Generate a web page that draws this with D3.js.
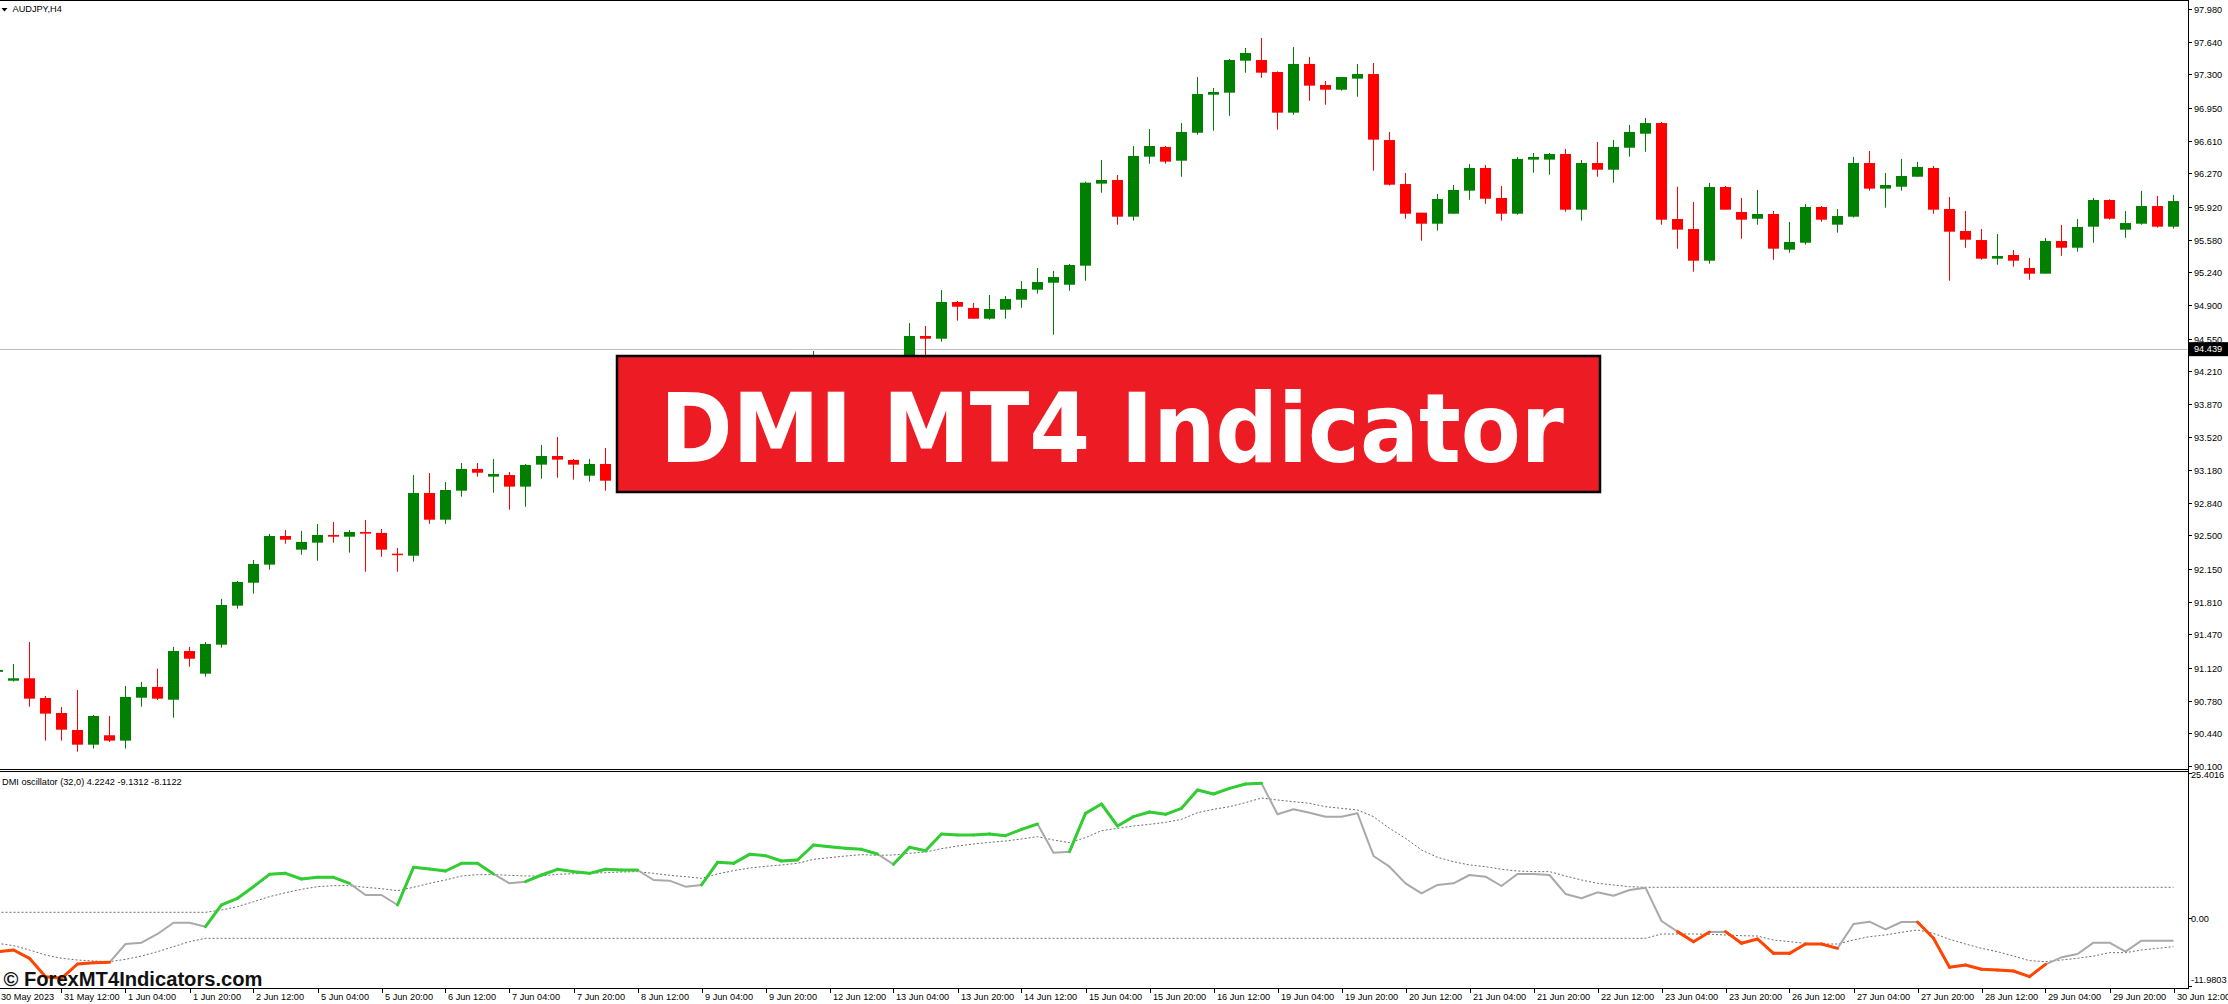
<!DOCTYPE html>
<html><head><meta charset="utf-8">
<script src="https://cdn.jsdelivr.net/npm/d3@7"></script>
<style>
html,body{margin:0;padding:0;background:#fff;overflow:hidden}
svg{display:block}
text{font-family:"Liberation Sans",Arial,sans-serif}
</style></head>
<body>
<svg id="c" width="2228" height="1004"></svg>
<script>
// ---------------- DATA ----------------
const symbolTitle = "AUDJPY,H4";
const oscTitle = "DMI oscillator (32,0) 4.2242 -9.1312 -8.1122";
const bannerText = "DMI MT4 Indicator";
const watermark = "\u00A9 ForexMT4Indicators.com";
const firstBar = -1; // index of first bar (partially visible)

const open = [91.08,90.988,91.013,90.808,90.652,90.475,90.322,90.420,90.364,90.811,
90.923,90.790,91.297,91.061,91.363,91.769,92.008,92.196,92.494,92.352,
92.425,92.505,92.487,92.536,92.526,92.310,92.289,92.942,92.664,92.966,
93.192,93.112,93.129,93.008,93.237,93.327,93.286,93.122,93.244,93.07,
93.43,93.55,93.50,93.62,93.80,93.72,93.86,93.98,93.92,93.84,
94.02,94.14,94.25,94.12,94.05,94.10,94.22,94.30,94.576,94.548,
94.930,94.868,94.756,94.850,94.954,95.058,95.131,95.110,95.308,96.162,
96.200,95.818,96.443,96.544,96.401,96.692,97.088,97.109,97.442,97.449,
97.324,96.901,97.408,97.189,97.140,97.255,97.303,96.616,96.158,95.860,
95.745,95.849,96.089,96.325,96.013,95.849,96.412,96.412,96.471,95.891,
96.377,96.307,96.536,96.682,96.793,95.794,95.690,95.360,96.127,95.867,
95.797,95.846,95.475,95.547,95.919,95.735,95.818,96.377,96.110,96.130,
96.234,96.325,95.898,95.669,95.575,95.381,95.419,95.284,95.225,95.565,
95.495,95.714,95.992,95.683,95.745,95.929,95.714];
const high = [91.12,91.162,91.391,90.829,90.714,90.892,90.631,90.621,90.933,90.975,
91.113,91.339,91.339,91.391,91.839,92.026,92.245,92.515,92.557,92.547,
92.619,92.640,92.557,92.661,92.567,92.370,93.129,93.150,93.057,93.254,
93.254,93.296,93.161,93.244,93.442,93.525,93.296,93.296,93.410,93.47,
93.60,93.70,93.68,93.85,93.88,93.92,94.05,94.10,94.02,94.08,
94.20,94.42,94.32,94.22,94.18,94.30,94.34,94.711,94.680,95.055,
94.941,94.920,95.003,94.993,95.149,95.284,95.253,95.326,96.182,96.408,
96.252,96.554,96.731,96.554,96.793,97.272,97.158,97.460,97.574,97.678,
97.330,97.584,97.480,97.231,97.272,97.408,97.418,96.700,96.273,95.860,
96.054,96.148,96.367,96.356,96.138,96.440,96.481,96.481,96.523,96.408,
96.596,96.616,96.773,96.845,96.804,96.130,95.971,96.169,96.138,96.013,
96.096,95.877,95.763,95.950,95.929,95.898,96.440,96.502,96.273,96.419,
96.388,96.346,96.023,95.877,95.690,95.638,95.471,95.388,95.596,95.732,
95.794,96.013,95.999,95.877,96.086,96.034,96.044];
const low = [91.06,90.978,90.718,90.364,90.364,90.249,90.281,90.350,90.281,90.718,
90.787,90.603,91.134,91.030,91.332,91.738,91.894,92.144,92.414,92.300,
92.237,92.425,92.321,92.123,92.279,92.123,92.227,92.622,92.622,92.904,
93.112,92.945,92.768,92.799,93.091,93.101,93.081,93.060,92.966,93.02,
93.35,93.45,93.40,93.58,93.66,93.68,93.80,93.85,93.78,93.80,
93.95,94.05,94.08,93.98,93.96,94.02,94.12,94.25,94.28,94.517,
94.736,94.756,94.746,94.756,94.871,95.017,94.590,95.048,95.152,96.068,
95.735,95.777,96.370,96.370,96.234,96.672,96.713,96.869,97.317,97.265,
96.724,96.880,97.025,96.984,97.130,97.067,96.297,96.141,95.797,95.568,
95.673,95.849,95.995,95.953,95.777,95.839,96.276,96.255,95.870,95.777,
96.234,96.172,96.443,96.494,95.735,95.485,95.246,95.329,95.891,95.589,
95.735,95.370,95.443,95.527,95.766,95.652,95.808,96.089,95.912,96.089,
96.234,95.849,95.152,95.495,95.370,95.318,95.298,95.162,95.225,95.412,
95.454,95.547,95.787,95.599,95.735,95.704,95.694];
const close = [91.10,91.013,90.801,90.645,90.478,90.322,90.621,90.364,90.819,90.923,
90.801,91.297,91.217,91.370,91.776,92.016,92.203,92.494,92.456,92.432,
92.505,92.487,92.536,92.519,92.352,92.300,92.942,92.664,92.973,93.192,
93.153,93.140,93.008,93.234,93.327,93.289,93.237,93.244,93.070,93.43,
93.55,93.50,93.62,93.80,93.72,93.86,93.98,93.92,93.84,94.02,
94.14,94.25,94.12,94.05,94.10,94.22,94.30,94.576,94.548,94.930,
94.881,94.756,94.857,94.961,95.065,95.138,95.190,95.315,96.172,96.200,
95.818,96.450,96.554,96.391,96.700,97.095,97.116,97.449,97.522,97.317,
96.901,97.408,97.182,97.140,97.272,97.303,96.620,96.151,95.849,95.745,
96.002,96.096,96.325,96.005,95.849,96.419,96.440,96.471,95.891,96.377,
96.307,96.544,96.700,96.793,95.787,95.683,95.360,96.127,95.891,95.787,
95.846,95.485,95.555,95.919,95.787,95.825,96.377,96.110,96.148,96.242,
96.336,95.891,95.662,95.579,95.381,95.409,95.360,95.225,95.565,95.495,
95.711,95.992,95.797,95.752,95.929,95.714,95.981];

const bidPrice = 94.439;
const priceTicks = ["97.980","97.640","97.300","96.950","96.610","96.270","95.920","95.580",
"95.240","94.900","94.550","94.210","93.870","93.520","93.180","92.840","92.500","92.150",
"91.810","91.470","91.120","90.780","90.440","90.100"];
const priceMin = 90.10, priceMax = 97.98;

const timeLabels = ["30 May 2023","31 May 12:00","1 Jun 04:00","1 Jun 20:00","2 Jun 12:00",
"5 Jun 04:00","5 Jun 20:00","6 Jun 12:00","7 Jun 04:00","7 Jun 20:00","8 Jun 12:00",
"9 Jun 04:00","9 Jun 20:00","12 Jun 12:00","13 Jun 04:00","13 Jun 20:00","14 Jun 12:00",
"15 Jun 04:00","15 Jun 20:00","16 Jun 12:00","19 Jun 04:00","19 Jun 20:00","20 Jun 12:00",
"21 Jun 04:00","21 Jun 20:00","22 Jun 12:00","23 Jun 04:00","23 Jun 20:00","26 Jun 12:00",
"27 Jun 04:00","27 Jun 20:00","28 Jun 12:00","29 Jun 04:00","29 Jun 20:00","30 Jun 12:00"];
const timeLabelStep = 4; // bars between time labels

const oscMax = 25.4016, oscMin = -11.9803;
const oscTicks = [25.4016, 0, -11.9803];
const oscTickText = ["25.4016","0.00","-11.9803"];

const dmiMain = [-5.96,-5.66,-7.12,-10.34,-10.64,-8.12,-7.89,-7.83,-4.61,-4.37,
-2.85,-0.87,-0.87,-1.57,2.24,3.41,5.45,7.62,7.79,6.80,
7.09,7.09,6.04,3.99,3.99,2.24,8.85,8.55,8.20,9.55,
9.55,7.68,6.04,6.33,7.50,8.50,8.09,7.79,8.50,8.38,
8.38,6.62,6.51,5.45,5.75,9.72,9.55,11.13,10.89,9.96,
10.13,12.77,12.47,12.18,12.00,11.19,9.37,12.36,11.77,14.70,
14.52,14.52,14.70,14.40,15.51,16.45,11.42,11.60,18.32,19.96,
16.10,17.74,18.56,18.15,19.20,22.42,21.72,22.71,23.47,23.59,
18.15,19.03,18.44,17.74,17.74,18.32,10.84,8.96,6.04,4.28,
5.75,6.04,7.50,7.21,5.57,7.68,7.68,7.50,4.17,3.41,
4.46,3.87,4.87,5.28,-0.57,-2.44,-4.20,-2.50,-2.44,-4.49,
-3.73,-6.25,-6.25,-4.61,-4.61,-5.37,-1.10,-0.69,-2.04,-0.75,
-0.75,-3.61,-8.70,-8.29,-9.05,-9.17,-9.35,-10.34,-8.18,-6.95,
-6.36,-4.37,-4.37,-5.96,-4.02,-4.02,-4.02];
const dmiUpper = [0.95,0.95,0.95,0.95,0.95,0.95,0.95,0.95,0.95,0.95,
0.95,0.95,0.95,0.95,1.36,1.94,2.82,3.70,4.40,4.99,
5.45,5.63,5.63,5.34,5.10,4.75,5.34,6.04,6.62,7.33,
7.56,7.56,7.44,7.33,7.33,7.62,7.73,7.79,7.91,8.03,
8.09,7.79,7.44,7.21,6.91,7.68,8.26,8.73,9.02,9.26,
9.55,10.25,10.54,10.83,11.07,10.95,11.01,11.30,11.54,12.12,
12.59,12.94,13.23,13.47,13.82,14.23,13.64,13.18,14.05,15.28,
15.69,16.10,16.39,16.74,17.27,18.44,19.03,19.49,20.20,21.01,
20.66,20.37,20.08,19.49,19.20,18.91,17.74,15.69,13.94,11.89,
10.60,9.84,9.26,8.96,8.50,8.20,8.09,8.09,7.33,6.62,
6.04,5.75,5.45,5.34,5.34,5.34,5.34,5.34,5.34,5.34,
5.34,5.34,5.34,5.34,5.34,5.34,5.34,5.34,5.34,5.34,
5.34,5.34,5.34,5.34,5.34,5.34,5.34,5.34,5.34,5.34,
5.34,5.34,5.34,5.34,5.34,5.34,5.34];
const dmiLower = [-4.49,-4.90,-5.66,-6.54,-7.12,-7.42,-7.59,-7.71,-7.30,-6.72,
-5.96,-5.08,-4.20,-3.61,-3.61,-3.61,-3.61,-3.61,-3.61,-3.61,
-3.61,-3.61,-3.61,-3.61,-3.61,-3.61,-3.61,-3.61,-3.61,-3.61,
-3.61,-3.61,-3.61,-3.61,-3.61,-3.61,-3.61,-3.61,-3.61,-3.61,
-3.61,-3.61,-3.61,-3.61,-3.61,-3.61,-3.61,-3.61,-3.61,-3.61,
-3.61,-3.61,-3.61,-3.61,-3.61,-3.61,-3.61,-3.61,-3.61,-3.61,
-3.61,-3.61,-3.61,-3.61,-3.61,-3.61,-3.61,-3.61,-3.61,-3.61,
-3.61,-3.61,-3.61,-3.61,-3.61,-3.61,-3.61,-3.61,-3.61,-3.61,
-3.61,-3.61,-3.61,-3.61,-3.61,-3.61,-3.61,-3.61,-3.61,-3.61,
-3.61,-3.61,-3.61,-3.61,-3.61,-3.61,-3.61,-3.61,-3.61,-3.61,
-3.61,-3.61,-3.61,-3.61,-2.85,-2.85,-2.85,-2.91,-3.03,-3.15,
-3.21,-3.91,-4.20,-4.49,-4.61,-4.61,-3.91,-3.32,-3.03,-2.56,
-2.15,-2.74,-3.79,-4.61,-5.37,-5.96,-6.72,-7.53,-7.71,-7.42,
-7.12,-6.72,-6.13,-6.13,-5.66,-5.37,-5.08];
// 1 = above upper level (green), -1 = below lower level (orange), 0 = neutral (gray)
const dmiTrend = [-1,-1,-1,-1,-1,-1,-1,-1,0,0,
0,0,0,0,1,1,1,1,1,1,
1,1,1,0,0,0,1,1,1,1,
1,1,0,0,1,1,1,1,1,1,
1,0,0,0,0,1,1,1,1,1,
1,1,1,1,1,1,0,1,1,1,
1,1,1,1,1,1,0,0,1,1,
1,1,1,1,1,1,1,1,1,1,
0,0,0,0,0,0,0,0,0,0,
0,0,0,0,0,0,0,0,0,0,
0,0,0,0,0,0,-1,-1,0,-1,
-1,-1,-1,-1,-1,-1,0,0,0,0,
0,-1,-1,-1,-1,-1,-1,-1,-1,0,
0,0,0,0,0,0,0];

// ---------------- LAYOUT ----------------
const W = 2228, H = 1004;
const AX = 2188;              // right price-axis line
const mainTop = 1, mainBottom = 769;
const oscTop = 773, oscBottom = 986;
const timeAxisY = 988;

const svg = d3.select("#c");
const lastBar = firstBar + open.length - 1;
const x = d3.scaleLinear().domain([firstBar, lastBar]).range([-2.5, -2.5 + 16 * (lastBar - firstBar)]);
const y = d3.scaleLinear().domain([priceMin, priceMax]).range([766, 9]);
const yo = d3.scaleLinear().domain([oscMin, oscMax]).range([oscBottom, oscTop]);

const bars = open.map((o, k) => ({i: firstBar + k, o, h: high[k], l: low[k], c: close[k]}));

const defs = svg.append("defs");
defs.append("clipPath").attr("id", "clipMain").append("rect")
  .attr("x", 0).attr("y", mainTop).attr("width", AX).attr("height", mainBottom - mainTop);
defs.append("clipPath").attr("id", "clipOsc").append("rect")
  .attr("x", 0).attr("y", oscTop).attr("width", AX).attr("height", oscBottom - oscTop + 1);

// ---- main chart ----
const gMain = svg.append("g").attr("clip-path", "url(#clipMain)");
// bid line
gMain.append("line").attr("x1", 0).attr("x2", AX)
  .attr("y1", Math.round(y(bidPrice)) + 0.5).attr("y2", Math.round(y(bidPrice)) + 0.5)
  .attr("stroke", "#c0c0c0").attr("stroke-width", 1);

const candle = gMain.selectAll("g.cd").data(bars).join("g").attr("class", "cd");
candle.append("rect")
  .attr("x", d => x(d.i) - 0.5).attr("width", 1)
  .attr("y", d => y(d.h)).attr("height", d => Math.max(1, y(d.l) - y(d.h)))
  .attr("fill", d => d.c >= d.o ? "#008000" : "#ff0000");
candle.append("rect")
  .attr("x", d => x(d.i) - 5.5).attr("width", 11)
  .attr("y", d => y(Math.max(d.o, d.c)))
  .attr("height", d => Math.max(1.5, Math.abs(y(d.o) - y(d.c))))
  .attr("fill", d => d.c >= d.o ? "#008000" : "#ff0000");

// ---- oscillator ----
const gOsc = svg.append("g").attr("clip-path", "url(#clipOsc)");
const idx = d3.range(dmiMain.length);
const lineOf = arr => d3.line().x(k => x(firstBar + k)).y(k => yo(arr[k]));
gOsc.append("path").attr("d", lineOf(dmiUpper)(idx)).attr("fill", "none")
  .attr("stroke", "#6e6e6e").attr("stroke-width", 1).attr("stroke-dasharray", "2,2");
gOsc.append("path").attr("d", lineOf(dmiLower)(idx)).attr("fill", "none")
  .attr("stroke", "#6e6e6e").attr("stroke-width", 1).attr("stroke-dasharray", "2,2");
gOsc.append("path").attr("d", lineOf(dmiMain)(idx)).attr("fill", "none")
  .attr("stroke", "#a9a9a9").attr("stroke-width", 2).attr("stroke-linejoin", "round");
const segs = idx.filter(k => k > 0 && dmiTrend[k] !== 0);
gOsc.selectAll("line.seg").data(segs).join("line").attr("class", "seg")
  .attr("x1", k => x(firstBar + k - 1)).attr("y1", k => yo(dmiMain[k - 1]))
  .attr("x2", k => x(firstBar + k)).attr("y2", k => yo(dmiMain[k]))
  .attr("stroke", k => dmiTrend[k] > 0 ? "#32cd32" : "#ff4500")
  .attr("stroke-width", 3).attr("stroke-linecap", "round");

// ---- frame lines ----
const frame = svg.append("g").attr("stroke", "#000").attr("stroke-width", 1).attr("shape-rendering", "crispEdges");
frame.append("line").attr("x1", 0).attr("x2", AX + 1).attr("y1", 0.5).attr("y2", 0.5);
frame.append("line").attr("x1", AX + 0.5).attr("x2", AX + 0.5).attr("y1", 0).attr("y2", timeAxisY + 1);
frame.append("line").attr("x1", 0).attr("x2", AX).attr("y1", mainBottom + 0.5).attr("y2", mainBottom + 0.5);
frame.append("line").attr("x1", 0).attr("x2", AX).attr("y1", oscTop - 1.5).attr("y2", oscTop - 1.5);
frame.append("line").attr("x1", 0).attr("x2", AX + 1).attr("y1", timeAxisY + 0.5).attr("y2", timeAxisY + 0.5);

// ---- price axis ----
const pa = svg.append("g");
priceTicks.forEach(t => {
  const v = +t, yy = Math.round(y(v)) + 0.5;
  pa.append("line").attr("x1", AX).attr("x2", AX + 4).attr("y1", yy).attr("y2", yy)
    .attr("stroke", "#000").attr("shape-rendering", "crispEdges");
  pa.append("text").attr("x", AX + 6).attr("y", yy).attr("dy", "0.35em")
    .attr("font-size", 9.2).attr("fill", "#000").text(t);
});
// bid label
const by = y(bidPrice);
pa.append("rect").attr("x", AX + 1).attr("y", by - 7).attr("width", W - AX - 1).attr("height", 14).attr("fill", "#000");
pa.append("text").attr("x", AX + 6).attr("y", by).attr("dy", "0.35em")
  .attr("font-size", 9.2).attr("fill", "#fff").text(bidPrice.toFixed(3));

// ---- oscillator axis ----
const oscOff = [2, 1, -6];
oscTicks.forEach((v, k) => {
  const yy = yo(v);
  pa.append("line").attr("x1", AX).attr("x2", AX + 4).attr("y1", Math.round(yy) + 0.5).attr("y2", Math.round(yy) + 0.5)
    .attr("stroke", "#000").attr("shape-rendering", "crispEdges");
  pa.append("text").attr("x", AX + 3).attr("y", yy + oscOff[k]).attr("dy", "0.35em")
    .attr("font-size", 9.2).attr("fill", "#000").text(oscTickText[k]);
});

// ---- time axis ----
const ta = svg.append("g");
timeLabels.forEach((t, k) => {
  const xx = Math.round(x(firstBar + k * timeLabelStep)) + 0.5;
  ta.append("line").attr("x1", xx).attr("x2", xx).attr("y1", timeAxisY).attr("y2", timeAxisY + 5)
    .attr("stroke", "#000").attr("shape-rendering", "crispEdges");
  ta.append("text").attr("x", xx + 2.5).attr("y", 997).attr("dy", "0.35em")
    .attr("font-size", 9.2).attr("fill", "#000").text(t);
});

// ---- titles ----
svg.append("path").attr("d", "M1.5,8 L7.5,8 L4.5,11.5 Z").attr("fill", "#000");
svg.append("text").attr("x", 12.5).attr("y", 9).attr("dy", "0.35em").attr("font-size", 9.2).attr("fill", "#000").text(symbolTitle);
svg.append("text").attr("x", 2).attr("y", 782).attr("dy", "0.35em").attr("font-size", 9.2).attr("fill", "#000").text(oscTitle);

// ---- watermark ----
svg.append("text").attr("x", 3.5).attr("y", 986).attr("font-size", 20).attr("font-weight", "bold")
  .attr("fill", "#111").attr("textLength", 259).attr("lengthAdjust", "spacingAndGlyphs").text(watermark);

// ---- banner ----
svg.append("rect").attr("x", 617).attr("y", 356).attr("width", 983).attr("height", 136)
  .attr("fill", "#ed1c24").attr("stroke", "#000").attr("stroke-width", 2.5);
svg.append("text").attr("x", 660).attr("y", 461.7)
  .style("font-family", "'DejaVu Sans',sans-serif").attr("font-weight", "bold").attr("font-size", 96)
  .attr("fill", "#fff").attr("textLength", 904).attr("lengthAdjust", "spacingAndGlyphs").text(bannerText);
</script>
</body></html>
